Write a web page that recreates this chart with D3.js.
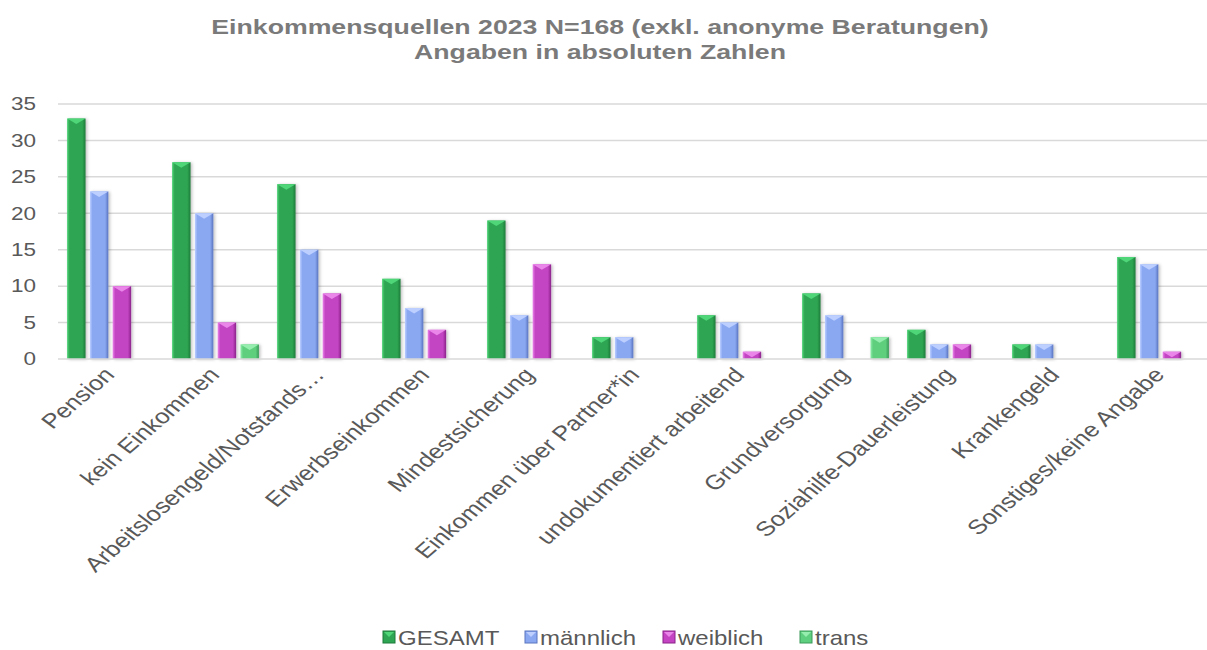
<!DOCTYPE html>
<html>
<head>
<meta charset="utf-8">
<script src="https://cdn.jsdelivr.net/npm/d3@7"></script>
<style>
  html, body { margin: 0; padding: 0; background: #fff; }
  svg { display: block; font-family: "Liberation Sans", Arial, sans-serif; }
</style>
</head>
<body>
<svg id="chart" width="1207" height="650"></svg>
<script>
// Income sources, absolute counts per group
const categories = [
  "Pension", "kein Einkommen", "Arbeitslosengeld/Notstands…", "Erwerbseinkommen",
  "Mindestsicherung", "Einkommen über Partner*in", "undokumentiert arbeitend",
  "Grundversorgung", "Soziahilfe-Dauerleistung", "Krankengeld", "Sonstiges/keine Angabe"
];
const seriesNames = ["GESAMT", "männlich", "weiblich", "trans"];
const gesamt    = [33, 27, 24, 11, 19, 3, 6, 9, 4, 2, 14];
const maennlich = [23, 20, 15, 7, 6, 3, 5, 6, 2, 2, 13];
const weiblich  = [10, 5, 9, 4, 13, 0, 1, 0, 2, 0, 1];
const trans     = [0, 2, 0, 0, 0, 0, 0, 3, 0, 0, 0];
const yTicks = [0, 5, 10, 15, 20, 25, 30, 35];
const titleLines = [
  "Einkommensquellen 2023 N=168 (exkl. anonyme Beratungen)",
  "Angaben in absoluten Zahlen"
];

const seriesValues = [gesamt, maennlich, weiblich, trans];
const palette = [
  { base: "#2ea552", light: "#4fd679", dark: "#1c7a3a" },
  { base: "#8aa8f2", light: "#bccfff", dark: "#5a74c0" },
  { base: "#c444c4", light: "#ea86ea", dark: "#8a238a" },
  { base: "#5ecf7e", light: "#95eead", dark: "#3a9a58" }
];
// text is drawn slightly widened horizontally
const SX = 1.25;

const svg = d3.select("#chart");
const defs = svg.append("defs");

palette.forEach((c, i) => {
  const g = defs.append("linearGradient").attr("id", "grad" + i)
    .attr("x1", "0%").attr("x2", "100%").attr("y1", "0%").attr("y2", "0%");
  g.append("stop").attr("offset", "0%").attr("stop-color", c.light);
  g.append("stop").attr("offset", "14%").attr("stop-color", c.base);
  g.append("stop").attr("offset", "82%").attr("stop-color", c.base);
  g.append("stop").attr("offset", "100%").attr("stop-color", c.dark);
});

const shadow = defs.append("filter").attr("id", "shadow")
  .attr("x", "-30%").attr("y", "-10%").attr("width", "160%").attr("height", "130%");
shadow.append("feDropShadow").attr("dx", 1.5).attr("dy", 0.5)
  .attr("stdDeviation", 1.5).attr("flood-color", "#000").attr("flood-opacity", 0.25);

const x0 = d3.scaleBand().domain(categories).range([58, 1213]).paddingInner(0).paddingOuter(0);
const x1 = d3.scaleBand().domain(seriesNames).range([0, x0.bandwidth()])
  .paddingInner(0.19).paddingOuter(0.4);
const y = d3.scaleLinear().domain([0, 35]).range([359, 104]);

// Title
svg.append("g").selectAll("text").data(titleLines).join("text")
  .attr("transform", (d, i) => `translate(600,${34 + i * 25}) scale(1.27,1)`)
  .attr("text-anchor", "middle")
  .attr("font-size", 21).attr("font-weight", "bold").attr("fill", "#7a7a7a")
  .text(d => d);

// Gridlines
svg.append("g").selectAll("line").data(yTicks.filter(t => t > 0)).join("line")
  .attr("x1", 58).attr("x2", 1213)
  .attr("y1", d => y(d)).attr("y2", d => y(d))
  .attr("stroke", "#d9d9d9").attr("stroke-width", 1.5);

// Y axis labels
const yAxis = d3.axisLeft(y).tickValues(yTicks).tickSize(0).tickPadding(0);
const yG = svg.append("g").attr("transform", "translate(36,0)").call(yAxis);
yG.select(".domain").remove();
yG.selectAll(".tick text")
  .attr("x", null)
  .attr("transform", `scale(${SX},1)`)
  .attr("font-size", 18).attr("fill", "#595959")
  .attr("font-family", "Liberation Sans, Arial, sans-serif");

// Bars
const rows = categories.map((c, ci) => ({
  cat: c,
  vals: seriesNames.map((s, si) => ({ s, si, v: seriesValues[si][ci] }))
}));

const groups = svg.append("g").selectAll("g").data(rows).join("g")
  .attr("transform", d => `translate(${x0(d.cat)},0)`);

const bars = groups.selectAll("g.bar").data(d => d.vals.filter(v => v.v > 0)).join("g")
  .attr("class", "bar");

bars.append("rect")
  .attr("x", d => x1(d.s)).attr("width", x1.bandwidth())
  .attr("y", d => y(d.v)).attr("height", d => y(0) - y(d.v))
  .attr("fill", d => `url(#grad${d.si})`)
  .attr("filter", "url(#shadow)");

// bevelled top face
bars.append("path")
  .attr("d", d => {
    const xl = x1(d.s), xr = xl + x1.bandwidth(), xc = (xl + xr) / 2;
    const top = y(d.v), h = Math.min(5.5, y(0) - y(d.v));
    return `M${xl},${top}L${xr},${top}L${xc},${top + h}Z`;
  })
  .attr("fill", d => palette[d.si].light);

// X axis line
svg.append("line")
  .attr("x1", 58).attr("x2", 1213).attr("y1", y(0)).attr("y2", y(0))
  .attr("stroke", "#d9d9d9").attr("stroke-width", 1.5);

// Category labels
svg.append("g").selectAll("text").data(categories).join("text")
  .attr("transform", d => `translate(${x0(d) + x0.bandwidth() / 2 - 8},${y(0) + 7}) scale(${SX},1) rotate(-47)`)
  .attr("text-anchor", "end")
  .attr("dy", "0.7em")
  .attr("font-size", 20.5).attr("fill", "#595959")
  .text(d => d);

// Legend
const legendX = [383, 525, 663, 800];
const lg = svg.append("g").selectAll("g").data(seriesNames).join("g")
  .attr("transform", (d, i) => `translate(${legendX[i]},631)`);
lg.append("rect").attr("width", 12).attr("height", 12)
  .attr("fill", (d, i) => palette[i].base)
  .attr("stroke", (d, i) => palette[i].dark).attr("stroke-width", 1);
lg.append("path").attr("d", "M1,1L11,1L6,6Z").attr("fill", (d, i) => palette[i].light);
lg.append("text")
  .attr("transform", `translate(15,13.5) scale(1.2,1)`)
  .attr("font-size", 20).attr("fill", "#595959")
  .text(d => d);
</script>
</body>
</html>
